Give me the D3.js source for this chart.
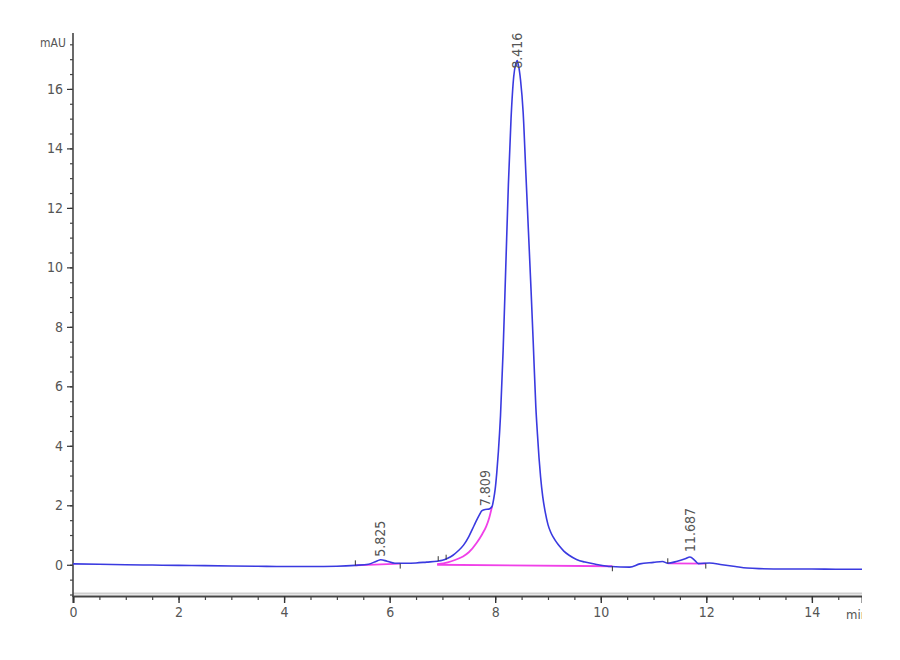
<!DOCTYPE html>
<html>
<head>
<meta charset="utf-8">
<script src="https://cdn.jsdelivr.net/npm/d3@7/dist/d3.min.js"></script>
<style>
  html, body { margin: 0; padding: 0; background: #fff; }
  svg { display: block; }
  text { font-family: "DejaVu Sans Condensed", "Liberation Sans Narrow", sans-serif; fill: #555; }
</style>
</head>
<body>
<svg id="chart" width="900" height="660"></svg>
<script>
// ---- data ----
const signalTime = [0.0,0.5,1.0,1.5,2.0,2.5,3.0,3.5,4.0,4.5,5.0,5.35,5.6,5.75,5.83,5.95,6.1,6.3,6.5,6.7,6.9,7.0,7.1,7.2,7.3,7.4,7.5,7.6,7.7,7.75,7.81,7.88,7.94,7.97,8.0,8.03,8.06,8.1,8.15,8.2,8.25,8.3,8.35,8.39,8.416,8.44,8.48,8.53,8.58,8.63,8.68,8.72,8.77,8.8,8.83,8.86,8.9,8.95,9.0,9.05,9.1,9.16,9.22,9.3,9.4,9.54,9.7,9.9,10.2,10.55,10.74,11.0,11.17,11.27,11.45,11.6,11.69,11.78,11.85,12.06,12.3,12.55,12.77,13.0,13.5,14.0,14.5,14.95];
const signalMAU  = [0.03,0.02,0.0,-0.01,-0.02,-0.03,-0.04,-0.05,-0.06,-0.06,-0.05,-0.02,0.02,0.12,0.17,0.12,0.05,0.05,0.06,0.09,0.12,0.15,0.22,0.32,0.47,0.66,0.95,1.32,1.68,1.82,1.86,1.87,1.96,2.2,2.55,3.1,3.8,5.0,7.2,10.0,12.8,15.0,16.4,16.85,16.95,16.8,16.3,15.2,13.2,11.2,9.2,7.5,5.3,4.4,3.6,2.95,2.3,1.75,1.35,1.1,0.93,0.76,0.62,0.46,0.32,0.18,0.09,0.02,-0.06,-0.08,0.03,0.08,0.11,0.05,0.12,0.2,0.26,0.15,0.04,0.06,0.0,-0.06,-0.11,-0.13,-0.14,-0.14,-0.15,-0.15];

// tangent-skim (deconvolution) curve under the 7.809 shoulder
const skimTime = [6.9,7.1,7.25,7.39,7.5,7.65,7.75,7.83,7.89,7.94];
const skimMAU  = [0.02,0.08,0.17,0.28,0.42,0.74,1.02,1.29,1.6,1.96];

// integration baselines
const baseStartT = [5.35, 6.9, 11.27];
const baseStartY = [-0.02, 0.0, 0.05];
const baseEndT   = [6.2, 10.22, 11.99];
const baseEndY   = [0.04, -0.05, 0.04];

// peak start / end marks
const markUpT   = [5.35, 6.92, 7.07, 11.27];
const markUpY   = [-0.02, 0.12, 0.17, 0.05];
const markDownT = [6.2, 10.22, 11.99];
const markDownY = [0.04, -0.05, 0.04];

// peak labels
const peakLabels = ["5.825", "7.809", "8.416", "11.687"];
const peakTimes  = [5.825, 7.809, 8.416, 11.687];
const peakTops   = [0.17, 1.87, 16.95, 0.26];

const xMajorTicks = [0, 2, 4, 6, 8, 10, 12, 14];
const yMajorTicks = [0, 2, 4, 6, 8, 10, 12, 14, 16];
const xMinorTicks = d3.range(0, 14.51, 0.5);
const yMinorTicks = d3.range(-1, 17.51, 0.5);

// ---- layout ----
const svg = d3.select("#chart");
const x = d3.scaleLinear().domain([0, 14.95]).range([73, 862]);
const y = d3.scaleLinear().domain([-1.05, 17.88]).range([596, 33]);
const labelGap = [3, 3, -8, 5];   // px between apex and label foot

svg.append("defs").append("clipPath").attr("id", "plotclip")
  .append("rect").attr("x", 0).attr("y", 0).attr("width", 862).attr("height", 660);

// ---- axes ----
const gx = svg.append("g").attr("clip-path", "url(#plotclip)");
gx.append("line").attr("x1", 73).attr("x2", 862).attr("y1", 593.5).attr("y2", 593.5)
  .attr("stroke", "#cfcfcf").attr("stroke-width", 2);

gx.append("g").attr("transform", "translate(0,596)")
  .call(d3.axisBottom(x).tickValues(xMinorTicks).tickSize(4).tickFormat(""))
  .call(g => g.select(".domain").remove())
  .call(g => g.selectAll(".tick line").attr("stroke", "#444").attr("stroke-width", 1.2));

gx.append("g").attr("transform", "translate(0,596)")
  .call(d3.axisBottom(x).tickValues(xMajorTicks).tickSize(7).tickPadding(4).tickFormat(d3.format("d")))
  .call(g => g.select(".domain").attr("stroke", "#444").attr("stroke-width", 2))
  .call(g => g.selectAll(".tick line").attr("stroke", "#333").attr("stroke-width", 1.4))
  .call(g => g.selectAll(".tick text").attr("font-size", 14).attr("fill", "#555")
      .style("font-family", '"DejaVu Sans Condensed", sans-serif'));

gx.append("text").attr("x", 846).attr("y", 619).attr("font-size", 13).text("min");

svg.append("g").attr("transform", "translate(73,0)")
  .call(d3.axisLeft(y).tickValues(yMinorTicks).tickSize(3).tickFormat(""))
  .call(g => g.select(".domain").remove())
  .call(g => g.selectAll(".tick line").attr("stroke", "#444").attr("stroke-width", 1.2));

svg.append("g").attr("transform", "translate(73,0)")
  .call(d3.axisLeft(y).tickValues(yMajorTicks).tickSize(6).tickPadding(4).tickFormat(d3.format("d")))
  .call(g => g.select(".domain").remove())
  .call(g => g.selectAll(".tick line").attr("stroke", "#333").attr("stroke-width", 1.2))
  .call(g => g.selectAll(".tick text").attr("font-size", 14).attr("fill", "#555")
      .style("font-family", '"DejaVu Sans Condensed", sans-serif'));

svg.append("line").attr("x1", 73).attr("x2", 73).attr("y1", 33).attr("y2", 597)
  .attr("stroke", "#444").attr("stroke-width", 1.6);

svg.append("text").attr("x", 40).attr("y", 47).attr("font-size", 12).text("mAU");

// ---- marks ----
const plot = svg.append("g").attr("clip-path", "url(#plotclip)");
const lineGen = d3.line().x(d => x(d[0])).y(d => y(d[1]));
const curveGen = d3.line().x(d => x(d[0])).y(d => y(d[1])).curve(d3.curveMonotoneX);

const baseLines = baseStartT.map((t, i) => [[baseStartT[i], baseStartY[i]], [baseEndT[i], baseEndY[i]]]);
plot.selectAll("path.base").data(baseLines).join("path").attr("class", "base")
  .attr("d", lineGen).attr("fill", "none").attr("stroke", "#f040e8").attr("stroke-width", 1.8);

plot.append("path").datum(skimTime.map((t, i) => [t, skimMAU[i]]))
  .attr("d", curveGen).attr("fill", "none").attr("stroke", "#f040e8").attr("stroke-width", 1.8);

plot.append("path").datum(signalTime.map((t, i) => [t, signalMAU[i]]))
  .attr("d", curveGen).attr("fill", "none").attr("stroke", "#3a3ae0").attr("stroke-width", 1.6);

plot.selectAll("line.mup").data(markUpT).join("line").attr("class", "mup")
  .attr("x1", d => x(d)).attr("x2", d => x(d))
  .attr("y1", (d, i) => y(markUpY[i])).attr("y2", (d, i) => y(markUpY[i]) - 5)
  .attr("stroke", "#333").attr("stroke-width", 1);
plot.selectAll("line.mdn").data(markDownT).join("line").attr("class", "mdn")
  .attr("x1", d => x(d)).attr("x2", d => x(d))
  .attr("y1", (d, i) => y(markDownY[i])).attr("y2", (d, i) => y(markDownY[i]) + 5)
  .attr("stroke", "#333").attr("stroke-width", 1);

svg.selectAll("text.peak").data(peakLabels).join("text").attr("class", "peak")
  .attr("transform", (d, i) => `translate(${x(peakTimes[i]) + 5},${y(peakTops[i]) - labelGap[i]}) rotate(-90)`)
  .attr("font-size", 14).attr("fill", "#555").attr("text-anchor", "start").text(d => d);
</script>
</body>
</html>
